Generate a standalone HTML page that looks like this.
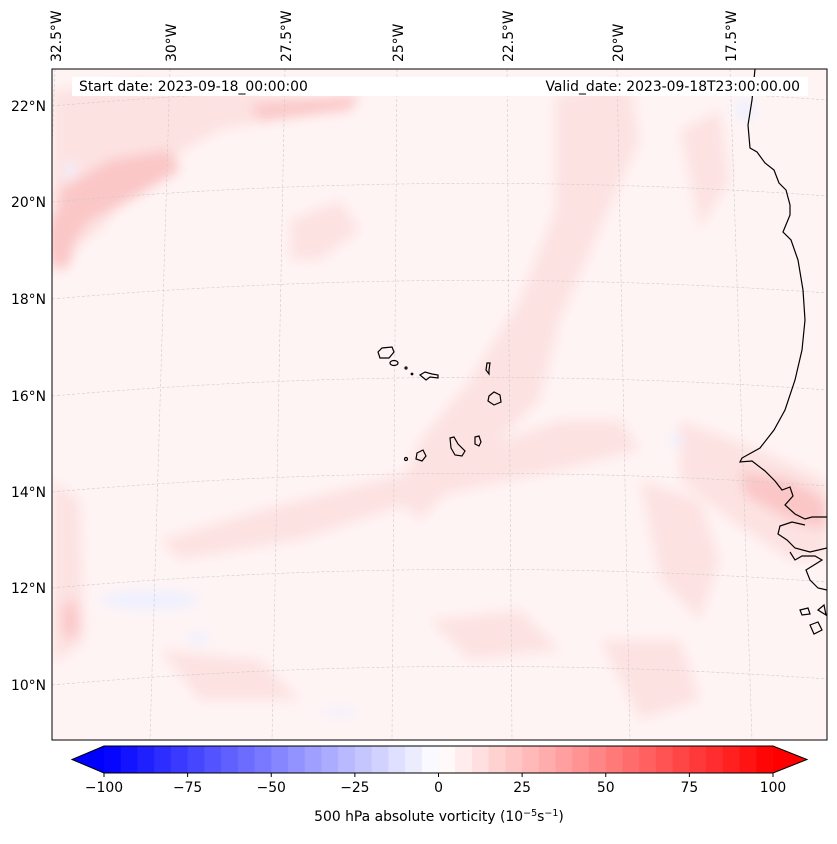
<!DOCTYPE html>
<html><head><meta charset="utf-8">
<style>
body{margin:0;background:#fff;font-family:"Liberation Sans","DejaVu Sans",sans-serif;}
svg text{font-family:"DejaVu Sans","Liberation Sans",sans-serif;}
</style></head>
<body>
<svg id="fig" width="837" height="839" viewBox="0 0 837 839">
<defs>
<clipPath id="mapclip"><rect x="52" y="69" width="775" height="671"/></clipPath>
<filter id="bl" x="-20%" y="-20%" width="140%" height="140%"><feGaussianBlur stdDeviation="6"/></filter>
</defs>
<g clip-path="url(#mapclip)">
<rect x="52" y="69" width="775" height="671" fill="#fff4f4"/>
<g id="field" filter="url(#bl)">
<g fill="#fde2e2">
<path d="M555 95 L630 80 L640 140 L600 230 L560 320 L540 400 L470 470 L420 520 L395 500 L420 440 L470 380 L520 300 L555 210 Z"/>
<path d="M160 540 L260 510 L420 470 L560 420 L620 420 L640 450 L560 470 L420 500 L300 540 L180 560 Z"/>
<path d="M52 90 L140 80 L300 95 L360 100 L340 110 L220 130 L150 170 L100 230 L60 260 L52 260 Z"/>
<path d="M680 420 L760 450 L827 480 L827 560 L790 560 L730 520 L680 480 Z"/>
<path d="M640 480 L700 500 L720 560 L700 620 L660 580 Z"/>
<path d="M52 480 L80 500 L85 640 L60 660 L52 660 Z"/>
<path d="M290 220 L340 200 L360 230 L320 260 L290 260 Z"/>
<path d="M600 640 L680 640 L700 700 L640 720 Z"/>
<path d="M680 130 L720 110 L730 180 L700 230 Z"/>
<path d="M160 650 L260 660 L300 700 L200 700 Z"/>
<path d="M430 620 L520 610 L560 650 L470 660 Z"/>
</g>
<g fill="#fbc6c6">
<path d="M60 190 L110 160 L170 150 L180 170 L130 200 L90 220 L60 260 L52 250 Z"/>
<ellipse cx="60" cy="240" rx="14" ry="30"/>
<path d="M740 470 L790 480 L827 500 L827 530 L790 520 L745 495 Z"/>
<path d="M250 105 L360 95 L350 110 L260 120 Z"/>
<ellipse cx="70" cy="620" rx="8" ry="20"/>
</g>
<g fill="#eef0ff">
<ellipse cx="745" cy="110" rx="10" ry="12"/>
<ellipse cx="676" cy="440" rx="8" ry="6"/>
<ellipse cx="198" cy="638" rx="12" ry="6"/>
<ellipse cx="150" cy="600" rx="50" ry="10"/>
<ellipse cx="340" cy="712" rx="20" ry="4"/>
<ellipse cx="70" cy="170" rx="6" ry="8"/>
</g>
</g>
<g id="grid" fill="none" stroke="#cccccc" stroke-width="0.6" stroke-dasharray="3,2"></g>
<g fill="none" stroke="#000" stroke-width="1.2">
<path d="M755 69 L752 100 L748 125 L750 148 L757 152 L765 163 L774 170 L779 183 L786 190 L790 205 L790 215 L783 232 L791 240 L798 260 L803 290 L805 320 L802 350 L795 380 L785 410 L774 430 L760 448 L742 458 L740 462 L752 461 L765 471 L775 481 L782 490 L790 487 L793 496 L785 505 L795 514 L805 519 L812 517 L827 517"/>
<path d="M827 548 L810 552 L795 548 L787 540 L778 534 L780 526 L792 522 L805 525 M790 552 L795 560 L802 556 L815 556 L822 560 L806 570 L810 580 L818 588 L827 590"/>
<path d="M800 610 L808 608 L810 614 L802 615 Z M810 625 L818 622 L822 630 L814 634 Z M818 610 L824 605 L826 615 Z"/>
<path d="M378 352 L382 348 L392 347 L394 352 L389 358 L380 358 Z"/>
<ellipse cx="394" cy="363" rx="4" ry="2.5"/>
<circle cx="406" cy="368" r="1"/>
<circle cx="412" cy="374" r="0.8"/>
<path d="M420 375 L425 372 L432 374 L438 375 L438 378 L430 377 L426 380 Z"/>
<path d="M487 363 L490 363 L489 370 L489 374 L486 370 Z"/>
<path d="M489 396 L494 392 L500 395 L501 402 L494 405 L488 401 Z"/>
<path d="M475 437 L479 436 L481 442 L479 446 L475 444 Z"/>
<path d="M450 438 L454 437 L458 444 L465 451 L462 456 L455 455 L451 448 Z"/>
<path d="M417 453 L423 450 L426 456 L422 461 L416 459 Z"/>
<circle cx="406" cy="459" r="1.5"/>
</g>
<rect x="72" y="77" width="736" height="19" fill="#fff"/>
<text x="79" y="91" font-size="13.9" fill="#000">Start date: 2023-09-18_00:00:00</text>
<text x="800" y="91" font-size="13.9" fill="#000" text-anchor="end">Valid_date: 2023-09-18T23:00:00.00</text>
</g>
<rect x="52" y="69" width="775" height="671" fill="none" stroke="#000" stroke-width="1"/>
<g id="lonlabels"></g>
<g id="latlabels"></g>
<g id="cbar"></g>
<text x="439" y="821" font-size="13.9" text-anchor="middle">500 hPa absolute vorticity (10<tspan dy="-5" font-size="9.5">−5</tspan><tspan dy="5">s</tspan><tspan dy="-5" font-size="9.5">−1</tspan><tspan dy="5">)</tspan></text>
</svg>
<script>
const NS="http://www.w3.org/2000/svg";
const lonLabels=["32.5°W","30°W","27.5°W","25°W","22.5°W","20°W","17.5°W"];
const lonTop=[55,170,285,397,507,617,730];
const lonBot=[30,150,272,392,512,630,752];
const latLabels=["22°N","20°N","18°N","16°N","14°N","12°N","10°N"];
const latLeft=[106,202,299,396,492,588,685];
const cbLevels=[];for(let v=-100;v<=100;v+=5)cbLevels.push(v);
const cbTicks=[-100,-75,-50,-25,0,25,50,75,100];
function mk(t,a,p){const e=document.createElementNS(NS,t);for(const k in a)e.setAttribute(k,a[k]);p.appendChild(e);return e;}
const grid=document.getElementById('grid');
for(let i=0;i<lonTop.length;i++){
 const l=mk('line',{x1:lonTop[i],y1:69,x2:lonBot[i],y2:740},grid);
 
 
 const t=mk('text',{transform:`translate(${lonTop[i]+6},62) rotate(-90)`,'font-size':13.9},document.getElementById('lonlabels'));
 t.textContent=lonLabels[i];
 
 
}
for(let i=0;i<latLeft.length;i++){
 const y=latLeft[i];
 const p=mk('path',{d:`M52 ${y} Q440 ${y-34} 827 ${y-6}`},grid);
 
 
 const t=mk('text',{x:46,y:y+5,'font-size':13.9,'text-anchor':'end'},document.getElementById('latlabels'));
 t.textContent=latLabels[i];
 
 
}
const cb=document.getElementById('cbar');
const x0=104,x1=773,vmin=-100,vmax=100,y0=746,h=27;
const sx=v=>x0+(v-vmin)/(vmax-vmin)*(x1-x0);
function bwr(t){let r,g,b;if(t<0.5){r=g=Math.round(255*t*2);b=255;}else{r=255;g=b=Math.round(255*(1-t)*2);}return `rgb(${r},${g},${b})`;}
for(let i=0;i<cbLevels.length-1;i++){
 const a=cbLevels[i],b=cbLevels[i+1];
 const t=(i+0.5)/(cbLevels.length-1);
 const r=mk('rect',{x:sx(a),y:y0,width:sx(b)-sx(a)+0.5,height:h,fill:bwr(t)},cb);
 
 
}
const lt=mk('polygon',{points:`${x0},${y0} 72,${y0+h/2} ${x0},${y0+h}`,fill:bwr(0)},cb);


const rt=mk('polygon',{points:`${x1},${y0} 807,${y0+h/2} ${x1},${y0+h}`,fill:bwr(1)},cb);


const ol=mk('polygon',{points:`${x0},${y0} ${x1},${y0} 807,${y0+h/2} ${x1},${y0+h} ${x0},${y0+h} 72,${y0+h/2}`,fill:'none',stroke:'#000','stroke-width':1},cb);


for(const v of cbTicks){
 const x=sx(v);
 const tk=mk('line',{x1:x,y1:y0+h,x2:x,y2:y0+h+4,stroke:'#000'},cb);
 
 
 const t=mk('text',{x:x,y:y0+h+19,'font-size':13.9,'text-anchor':'middle'},cb);
 t.textContent=v<0?'−'+Math.abs(v):String(v);
 
 
}
</script>
</body></html>
